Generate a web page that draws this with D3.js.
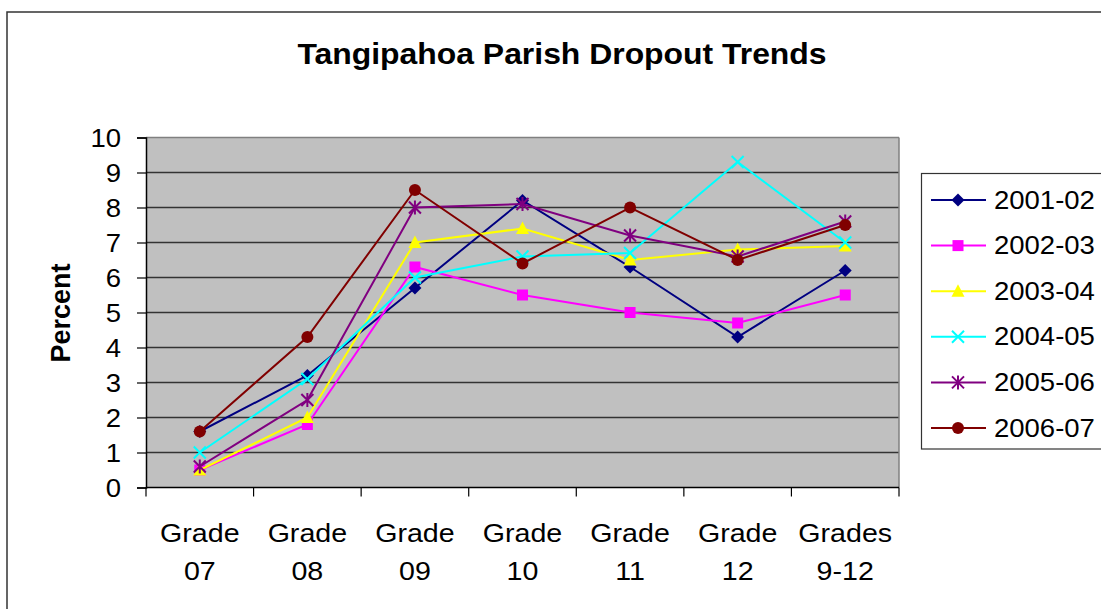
<!DOCTYPE html>
<html>
<head>
<meta charset="utf-8">
<script src="https://cdn.jsdelivr.net/npm/d3@7"></script>
<style>
  body { margin: 0; background: #fff; }
  svg { display: block; font-family: "Liberation Sans", Arial, sans-serif; }
</style>
</head>
<body>
<svg id="chart" width="1101" height="609"></svg>
<script>
var categories = ["Grade 07", "Grade 08", "Grade 09", "Grade 10", "Grade 11", "Grade 12", "Grades 9-12"];
var seriesNames = ["2001-02", "2002-03", "2003-04", "2004-05", "2005-06", "2006-07"];
var s2001 = [1.6, 3.2, 5.7, 8.2, 6.3, 4.3, 6.2];
var s2002 = [0.5, 1.8, 6.3, 5.5, 5.0, 4.7, 5.5];
var s2003 = [0.5, 2.0, 7.0, 7.4, 6.5, 6.8, 6.9];
var s2004 = [1.0, 3.1, 6.0, 6.6, 6.7, 9.3, 7.0];
var s2005 = [0.6, 2.5, 8.0, 8.1, 7.2, 6.6, 7.6];
var s2006 = [1.6, 4.3, 8.5, 6.4, 8.0, 6.5, 7.5];
var yTicks = [0, 1, 2, 3, 4, 5, 6, 7, 8, 9, 10];

var colors = ["#000080", "#ff00ff", "#ffff00", "#00ffff", "#800080", "#800000"];
var markers = ["diamond", "square", "triangle", "x", "star", "circle"];
var allSeries = [s2001, s2002, s2003, s2004, s2005, s2006];

var svg = d3.select("#chart");
var plot = {left: 146, right: 899, top: 137.5, bottom: 487.5};
var stretch = 1.1;

// outer chart border
svg.append("rect")
    .attr("x", 7).attr("y", 12)
    .attr("width", 1200).attr("height", 700)
    .attr("fill", "none").attr("stroke", "#333").attr("stroke-width", 1.5);

var x = d3.scaleBand().domain(categories).range([plot.left, plot.right]);
var y = d3.scaleLinear().domain([0, 10]).range([plot.bottom, plot.top]);

// plot background
svg.append("rect")
    .attr("x", plot.left).attr("y", plot.top)
    .attr("width", plot.right - plot.left).attr("height", plot.bottom - plot.top)
    .attr("fill", "#c0c0c0");

// grid lines
svg.selectAll(".grid").data(yTicks.slice(1)).enter().append("line")
    .attr("x1", plot.left).attr("x2", plot.right)
    .attr("y1", function (d) { return y(d); })
    .attr("y2", function (d) { return y(d); })
    .attr("stroke", d => d == 10 ? "#808080" : "#333")
    .attr("stroke-width", 1.5);

// right border of plot
svg.append("line")
    .attr("x1", plot.right).attr("x2", plot.right)
    .attr("y1", plot.top).attr("y2", plot.bottom)
    .attr("stroke", "#808080").attr("stroke-width", 1.5);

// y axis
var yAxis = svg.append("g")
    .attr("transform", "translate(" + plot.left + ",0)")
    .call(d3.axisLeft(y).tickValues(yTicks).tickSize(9).tickFormat(d3.format("d")));
yAxis.selectAll("text").remove();
yAxis.selectAll("line").attr("stroke", "#000").attr("stroke-width", 1.2);
yAxis.select(".domain").attr("stroke", "#000").attr("stroke-width", 1.5);

svg.selectAll(".ylab").data(yTicks).enter().append("text")
    .attr("transform", function (d) { return "translate(121," + (y(d) + 9) + ") scale(" + stretch + ",1)"; })
    .attr("text-anchor", "end")
    .attr("font-size", 25)
    .text(function (d) { return d; });

// x axis
var boundaries = categories.map(function (c) { return x(c); }).concat([plot.right]);
svg.append("line")
    .attr("x1", plot.left).attr("x2", plot.right)
    .attr("y1", plot.bottom).attr("y2", plot.bottom)
    .attr("stroke", "#000").attr("stroke-width", 1.5);
svg.selectAll(".xtick").data(boundaries).enter().append("line")
    .attr("x1", d => d).attr("x2", d => d)
    .attr("y1", plot.bottom).attr("y2", plot.bottom + 9)
    .attr("stroke", "#000").attr("stroke-width", 1.2);

var xlab = svg.selectAll(".xlab").data(categories).enter().append("g")
    .attr("transform", function (d) { return "translate(" + (x(d) + x.bandwidth() / 2) + ",0) scale(" + stretch + ",1)"; });
xlab.append("text")
    .attr("y", 542).attr("text-anchor", "middle").attr("font-size", 26)
    .text(function (d) { return d.split(" ")[0]; });
xlab.append("text")
    .attr("y", 580).attr("text-anchor", "middle").attr("font-size", 26)
    .text(function (d) { return d.split(" ")[1]; });

// title
svg.append("text")
    .attr("transform", "translate(562,64) scale(" + stretch + ",1)")
    .attr("text-anchor", "middle")
    .attr("font-size", 29).attr("font-weight", "bold")
    .text("Tangipahoa Parish Dropout Trends");

// y axis title
svg.append("text")
    .attr("transform", "translate(70,313) rotate(-90)")
    .attr("text-anchor", "middle")
    .attr("font-size", 27).attr("font-weight", "bold")
    .text("Percent");

// marker drawing
function drawMarker(g, type, color) {
    if (type == "diamond") {
        g.append("path").attr("d", "M0,-6.5L6.5,0L0,6.5L-6.5,0Z").attr("fill", color);
    } else if (type == "square") {
        g.append("rect").attr("x", -5.5).attr("y", -5.5).attr("width", 11).attr("height", 11).attr("fill", color);
    } else if (type == "triangle") {
        g.append("path").attr("d", "M0,-7L6.5,5.5L-6.5,5.5Z").attr("fill", color);
    } else if (type == "x") {
        g.append("path").attr("d", "M-6,-6L6,6M-6,6L6,-6").attr("stroke", color).attr("stroke-width", 2);
    } else if (type == "star") {
        g.append("path").attr("d", "M-6,-6L6,6M-6,6L6,-6M0,-7L0,7").attr("stroke", color).attr("stroke-width", 2);
    } else {
        g.append("circle").attr("r", 6).attr("fill", color);
    }
}

var line = d3.line()
    .x(function (d, i) { return x(categories[i]) + x.bandwidth() / 2; })
    .y(function (d) { return y(d); });

allSeries.forEach(function (vals, si) {
    var g = svg.append("g");
    g.append("path")
        .attr("d", line(vals))
        .attr("fill", "none")
        .attr("stroke", colors[si])
        .attr("stroke-width", 2);
    vals.forEach(function (v, i) {
        var m = g.append("g")
            .attr("transform", "translate(" + (x(categories[i]) + x.bandwidth() / 2) + "," + y(v) + ")");
        drawMarker(m, markers[si], colors[si]);
    });
});

// legend
var legend = svg.append("g");
legend.append("rect")
    .attr("x", 921.5).attr("y", 173.5)
    .attr("width", 300).attr("height", 275.5)
    .attr("fill", "#fff").attr("stroke", "#333").attr("stroke-width", 1.2);

seriesNames.forEach(function (name, i) {
    var ly = 200 + i * 45.6;
    var row = legend.append("g");
    row.append("line")
        .attr("x1", 931).attr("x2", 986)
        .attr("y1", ly).attr("y2", ly)
        .attr("stroke", colors[i]).attr("stroke-width", 2);
    var m = row.append("g").attr("transform", "translate(958," + ly + ")");
    drawMarker(m, markers[i], colors[i]);
    row.append("text")
        .attr("transform", "translate(994," + (ly + 8.5) + ") scale(" + stretch + ",1)")
        .attr("font-size", 25)
        .text(name);
});
</script>
</body>
</html>
